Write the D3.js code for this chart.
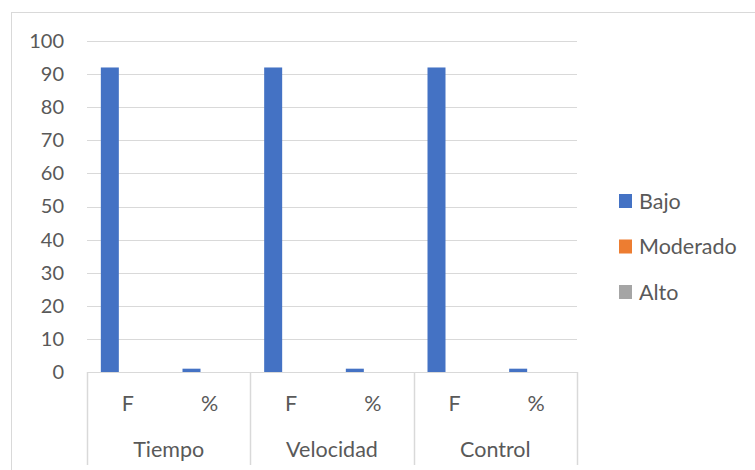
<!DOCTYPE html>
<html>
<head>
<meta charset="utf-8">
<script src="https://cdn.jsdelivr.net/npm/d3@7/dist/d3.min.js"></script>
<style>
  html, body { margin: 0; padding: 0; background: #fff; }
  svg { display: block; font-family: Lato, "Open Sans", sans-serif; }
</style>
</head>
<body>
<svg id="chart" width="755" height="470"></svg>
<script>
// Groups and their sub-categories
const groups = ["Tiempo", "Velocidad", "Control"];
const subCategories = ["F", "%"];
const seriesNames = ["Bajo", "Moderado", "Alto"];
const seriesColors = ["#4472c4", "#ed7d31", "#a5a5a5"];

// Values per series, in order: Tiempo F, Tiempo %, Velocidad F, Velocidad %, Control F, Control %
const bajo = [92, 1, 92, 1, 92, 1];
const moderado = [0, 0, 0, 0, 0, 0];
const alto = [0, 0, 0, 0, 0, 0];

const yTicks = [0, 10, 20, 30, 40, 50, 60, 70, 80, 90, 100];

const seriesValues = [bajo, moderado, alto];
const cats = [];
groups.forEach(g => subCategories.forEach(s => cats.push(g + "|" + s)));

const svg = d3.select("#chart");
const textColor = "#595959";
const gridColor = "#d9d9d9";
const labelSize = 21.5;

// Outer chart frame
svg.append("rect")
  .attr("x", 11.5).attr("y", 12.5)
  .attr("width", 800).attr("height", 500)
  .attr("fill", "none").attr("stroke", gridColor).attr("stroke-width", 1);

const plotLeft = 87, plotRight = 577, plotTop = 41, plotBottom = 372;

const x = d3.scaleBand().domain(cats).range([plotLeft, plotRight]).paddingInner(0).paddingOuter(0);
const y = d3.scaleLinear().domain([0, 100]).range([plotBottom, plotTop]);

// Gridlines
svg.append("g").selectAll("line").data(yTicks.filter(t => t > 0)).join("line")
  .attr("x1", plotLeft).attr("x2", plotRight)
  .attr("y1", d => Math.round(y(d)) + 0.5).attr("y2", d => Math.round(y(d)) + 0.5)
  .attr("stroke", gridColor).attr("stroke-width", 1);

// Y axis labels
const yAxis = d3.axisLeft(y).tickValues(yTicks).tickSize(0).tickPadding(0);
const ya = svg.append("g").attr("transform", `translate(${plotLeft - 23},0)`).call(yAxis);
ya.select(".domain").remove();
ya.selectAll("text").attr("fill", textColor).attr("font-size", 20)
  .attr("font-family", "Lato, 'Open Sans', sans-serif");

// Bars: three series clustered at the centre of each category
const barW = 18;
seriesValues.forEach((vals, si) => {
  svg.append("g").selectAll("rect").data(vals.map((v, i) => ({ v, c: cats[i] }))).join("rect")
    .attr("x", d => x(d.c) + x.bandwidth() / 2 - 1.5 * barW + si * barW)
    .attr("width", barW)
    .attr("y", d => y(d.v))
    .attr("height", d => y(0) - y(d.v))
    .attr("fill", seriesColors[si]);
});

// Category axis: baseline and group separators
svg.append("line")
  .attr("x1", plotLeft).attr("x2", plotRight)
  .attr("y1", plotBottom + 0.5).attr("y2", plotBottom + 0.5)
  .attr("stroke", gridColor);

const groupEdges = groups.map(g => x(g + "|" + subCategories[0]));
groupEdges.push(plotRight);
svg.append("g").selectAll("line").data(groupEdges).join("line")
  .attr("x1", d => Math.round(d) + 0.5).attr("x2", d => Math.round(d) + 0.5)
  .attr("y1", plotBottom).attr("y2", 465)
  .attr("stroke", gridColor).attr("stroke-width", 1.5);

// Sub-category labels
svg.append("g").selectAll("text").data(cats).join("text")
  .attr("x", d => x(d) + x.bandwidth() / 2)
  .attr("y", 411)
  .attr("text-anchor", "middle")
  .attr("fill", textColor).attr("font-size", labelSize)
  .text(d => d.split("|")[1]);

// Group labels
svg.append("g").selectAll("text").data(groups).join("text")
  .attr("x", g => (x(g + "|" + subCategories[0]) + x(g + "|" + subCategories[1]) + x.bandwidth()) / 2)
  .attr("y", 457)
  .attr("text-anchor", "middle")
  .attr("fill", textColor).attr("font-size", labelSize)
  .text(g => g);

// Legend
const legend = svg.append("g").selectAll("g").data(seriesNames).join("g")
  .attr("transform", (d, i) => `translate(619,${201 + i * 45.5})`);
legend.append("rect").attr("x", 0).attr("y", -7).attr("width", 13).attr("height", 14)
  .attr("fill", (d, i) => seriesColors[i]);
legend.append("text").attr("x", 20).attr("y", 7.5)
  .attr("fill", textColor).attr("font-size", labelSize).text(d => d);
</script>
</body>
</html>
